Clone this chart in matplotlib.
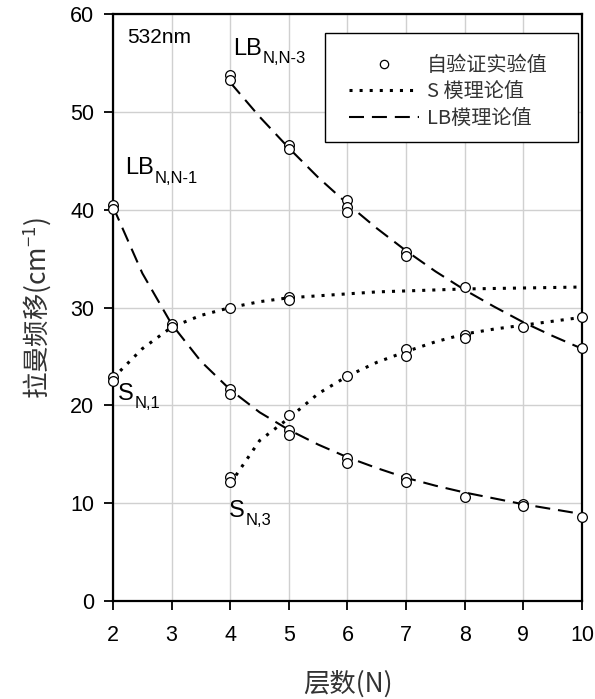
import matplotlib
matplotlib.use("Agg")
import matplotlib.pyplot as plt
from matplotlib.patches import Rectangle
from matplotlib.lines import Line2D

plt.rcParams['font.family'] = ['Liberation Sans', 'Noto Sans CJK SC', 'DejaVu Sans']
plt.rcParams['mathtext.default'] = 'regular'

# === DATA ===
# model curves, sampled every half layer
lb1_n = [2, 2.5, 3, 3.5, 4, 4.5, 5, 5.5, 6, 6.5, 7, 7.5, 8, 8.5, 9, 9.5, 10]
lb1_val = [40.3, 33.5, 28.3, 24.5, 21.6, 19.3, 17.5, 16.0, 14.7, 13.6, 12.6, 11.8, 11.1, 10.5, 9.9, 9.4, 8.9]

lb3_n = [4, 4.5, 5, 5.5, 6, 6.5, 7, 7.5, 8, 8.5, 9, 9.5, 10]
lb3_val = [53.0, 49.5, 46.3, 43.3, 40.6, 38.1, 35.8, 33.7, 31.8, 30.1, 28.5, 27.1, 25.8]

s1_n = [2, 2.5, 3, 3.5, 4, 4.5, 5, 5.5, 6, 6.5, 7, 7.5, 8, 8.5, 9, 9.5, 10]
s1_val = [22.8, 25.8, 28.0, 29.2, 30.0, 30.6, 31.0, 31.2, 31.4, 31.6, 31.7, 31.8, 31.9, 31.95, 32.0, 32.05, 32.1]

s3_n = [4, 4.5, 5, 5.5, 6, 6.5, 7, 7.5, 8, 8.5, 9, 9.5, 10]
s3_val = [12.0, 16.4, 18.7, 21.2, 23.0, 24.4, 25.5, 26.5, 27.3, 27.8, 28.2, 28.6, 29.0]

# self-verified experimental values
exp_n = [2, 2, 2, 2,
         3, 3,
         4, 4, 4, 4, 4, 4, 4,
         5, 5, 5, 5, 5, 5, 5,
         6, 6, 6, 6, 6, 6,
         7, 7, 7, 7, 7, 7,
         8, 8, 8, 8,
         9, 9, 9,
         10, 10, 10]
exp_val = [40.5, 40.1, 22.9, 22.5,
           28.3, 28.0,
           53.8, 53.3, 30.0, 21.7, 21.2, 12.7, 12.2,
           46.6, 46.2, 31.1, 30.8, 19.0, 17.5, 17.0,
           41.0, 40.3, 39.8, 23.0, 14.6, 14.1,
           35.7, 35.3, 25.8, 25.0, 12.6, 12.2,
           32.1, 27.2, 26.9, 10.6,
           28.0, 9.9, 9.7,
           29.0, 25.9, 8.6]

x_ticks = [2, 3, 4, 5, 6, 7, 8, 9, 10]
y_ticks = [0, 10, 20, 30, 40, 50, 60]

legend_labels = ['自验证实验值', 'S 模理论值', 'LB模理论值']

DOTTED = (0, (1, 2.3))
DASHED = (0, (7.2, 3.8))

fig = plt.figure(figsize=(5.95, 6.99), dpi=100)
ax = fig.add_axes([0.190, 0.140, 0.788, 0.840])

ax.plot(s1_n, s1_val, color='black', lw=2.2, linestyle=DOTTED, dash_capstyle='butt', zorder=2)
ax.plot(s3_n, s3_val, color='black', lw=2.2, linestyle=DOTTED, dash_capstyle='butt', zorder=2)
ax.plot(lb1_n, lb1_val, color='black', lw=1.5, linestyle=DASHED, zorder=2)
ax.plot(lb3_n, lb3_val, color='black', lw=1.5, linestyle=DASHED, zorder=2)
ax.plot(exp_n, exp_val, linestyle='none', marker='o', ms=7, mfc='white', mec='black',
        mew=0.9, zorder=3, clip_on=False)

ax.set_xlim(2, 10)
ax.set_ylim(0, 60)
ax.set_xticks(x_ticks)
ax.set_yticks(y_ticks)
ax.grid(True, color='#d0d0d0', lw=1.0, zorder=0)
ax.set_axisbelow(True)
for sp in ax.spines.values():
    sp.set_linewidth(1.6)
ax.tick_params(direction='out', length=6.5, width=1.3, labelsize=15.5, pad=7, colors='black')
ax.tick_params(axis='x', pad=11)

ax.set_xlabel('层数(N)', family=['Noto Sans CJK SC'], fontsize=19, color='#333333', labelpad=17)
ax.set_ylabel('拉曼频移(cm$^{-1}$)', family=['Noto Sans CJK SC'], fontsize=19, color='#333333', labelpad=12)

# annotations
ax.text(2.24, 57.0, '532nm', fontsize=15, va='baseline')

branch_labels = [(4.05, 55.8, 'LB', 'N,N-3'),
                 (2.20, 43.6, 'LB', 'N,N-1'),
                 (2.09, 20.55, 'S', 'N,1'),
                 (3.98, 8.6, 'S', 'N,3')]
mains = [ax.text(x, y, m, fontsize=17, va='baseline') for x, y, m, _ in branch_labels]
fig.canvas.draw()
for t, (x, y, m, sub) in zip(mains, branch_labels):
    w_pt = t.get_window_extent().width * 72 / fig.dpi
    ax.annotate(sub, xy=(x, y), xytext=(w_pt + 0.5, -6), textcoords='offset points',
                fontsize=12, va='baseline', ha='left')

# legend box, larger than its content
ax.add_patch(Rectangle((0.452, 0.782), 0.539, 0.186, transform=ax.transAxes,
                       facecolor='white', edgecolor='black', lw=1.0, zorder=4))
handles = [
    Line2D([], [], linestyle='none', marker='o', ms=6, mfc='white', mec='black', mew=0.9),
    Line2D([], [], color='black', lw=2.2, linestyle=DOTTED, dash_capstyle='butt'),
    Line2D([], [], color='black', lw=1.5, linestyle=DASHED),
]
leg = ax.legend(handles, legend_labels, loc='upper left', bbox_to_anchor=(0.482, 0.948),
                frameon=False, borderpad=0, handlelength=3.48, handletextpad=0.4,
                labelspacing=0.28, numpoints=1,
                prop={'family': ['Noto Sans CJK SC'], 'size': 14.5})
leg.set_zorder(5)
for t in leg.get_texts():
    t.set_color('#333333')

fig.savefig('out.png', dpi=100)
